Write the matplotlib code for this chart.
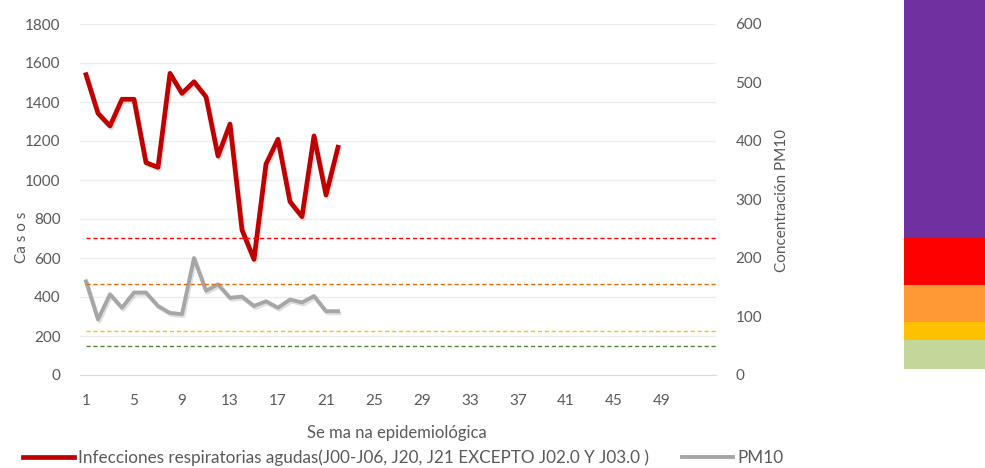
import numpy as np
import matplotlib.pyplot as plt
import matplotlib.patheffects as pe
from matplotlib.lines import Line2D

plt.rcParams['font.family'] = ['Lato', 'DejaVu Sans']

# Semanas epidemiológicas (eje de categorías)
semanas = np.arange(1, 54)
semanas_datos = np.arange(1, 23)

# Casos de infecciones respiratorias agudas
ira = [1540, 1342, 1277, 1414, 1414, 1089, 1065, 1547, 1444, 1504, 1427,
       1123, 1287, 744, 593, 1082, 1209, 889, 812, 1226, 923, 1168]

# Concentración de PM10
pm10 = [160, 95, 138, 115, 141, 141, 118, 106, 104, 200, 144,
        155, 132, 134, 118, 126, 115, 129, 124, 135, 109, 109]

# Umbrales de PM10 (líneas punteadas)
umbrales = [235, 155, 75, 50]
colores_umbral = ['#FF0000', '#E26B0A', '#FFC000', '#548235']

# Barra de colores del índice (de abajo hacia arriba)
bandas = [29, 18, 37, 47, 241]
colores_banda = ['#C4D79B', '#FFC000', '#FF9933', '#FF0000', '#7030A0']

etiqueta_ira = 'Infecciones respiratorias agudas(J00-J06, J20, J21 EXCEPTO J02.0 Y J03.0 )'

fig = plt.figure(figsize=(9.85, 4.68), dpi=100)
ax = fig.add_axes([80 / 985, 93 / 468, 636 / 985, 351 / 468])
ax2 = ax.twinx()

sombra = [pe.SimpleLineShadow(offset=(1, -1.5), alpha=0.12, shadow_color='k'), pe.Normal()]
ax.plot(semanas_datos, ira, color='#C00000', lw=3.4, solid_joinstyle='round',
        path_effects=sombra)
ax2.plot(semanas_datos, pm10, color='#A6A6A6', lw=2.8, solid_joinstyle='round',
         path_effects=sombra)
for u, c in zip(umbrales, colores_umbral):
    ax2.hlines(u, 1, 53.5, colors=c, linestyles=(0, (3, 2)), lw=1)

ax.set_xlim(0.5, 53.5)
ax.set_ylim(0, 1800)
ax2.set_ylim(0, 600)
ax.set_xticks(np.arange(1, 50, 4))
ax.set_yticks(np.arange(0, 1801, 200))
ax2.set_yticks(np.arange(0, 601, 100))
ax.yaxis.grid(True, color='#EDEDED', lw=1)
ax.set_axisbelow(True)

for a in (ax, ax2):
    for s in a.spines.values():
        s.set_visible(False)
    a.tick_params(length=0, labelsize=11, labelcolor='#595959')
ax.spines['bottom'].set_visible(True)
ax.spines['bottom'].set_color('#D9D9D9')
ax.tick_params(axis='x', pad=14)
ax.tick_params(axis='y', pad=14)
ax2.tick_params(axis='y', pad=14)

fig.text(22 / 985, 1 - 237 / 468, 'Ca s o s', rotation=90, ha='center', va='center',
         fontsize=11, color='#595959')
fig.text(782 / 985, 1 - 200 / 468, 'Concentración PM10', rotation=90, ha='center',
         va='center', fontsize=11, color='#595959')
fig.text(397 / 985, 1 - 433 / 468, 'Se ma na epidemiológica', ha='center', va='center',
         fontsize=12, color='#595959')

h1 = Line2D([], [], color='#C00000', lw=3.4)
h2 = Line2D([], [], color='#A6A6A6', lw=2.8)
fig.legend(handles=[h1, h2], labels=[etiqueta_ira, 'PM10'], loc='center',
           bbox_to_anchor=(403 / 985, 1 - 458 / 468), ncol=2, frameon=False,
           fontsize=12.3, labelcolor='#595959', handlelength=3.0,
           handletextpad=0.25, columnspacing=1.9)

# barra de colores a la derecha
axb = fig.add_axes([904 / 985, 99 / 468, 81 / 985, 369 / 468])
base = np.concatenate([[0], np.cumsum(bandas)[:-1]])
axb.bar(0, bandas, bottom=base, width=1, color=colores_banda, align='edge')
axb.set_xlim(0, 1)
axb.set_ylim(0, 369)
axb.axis('off')

fig.savefig('out.png', dpi=100)
